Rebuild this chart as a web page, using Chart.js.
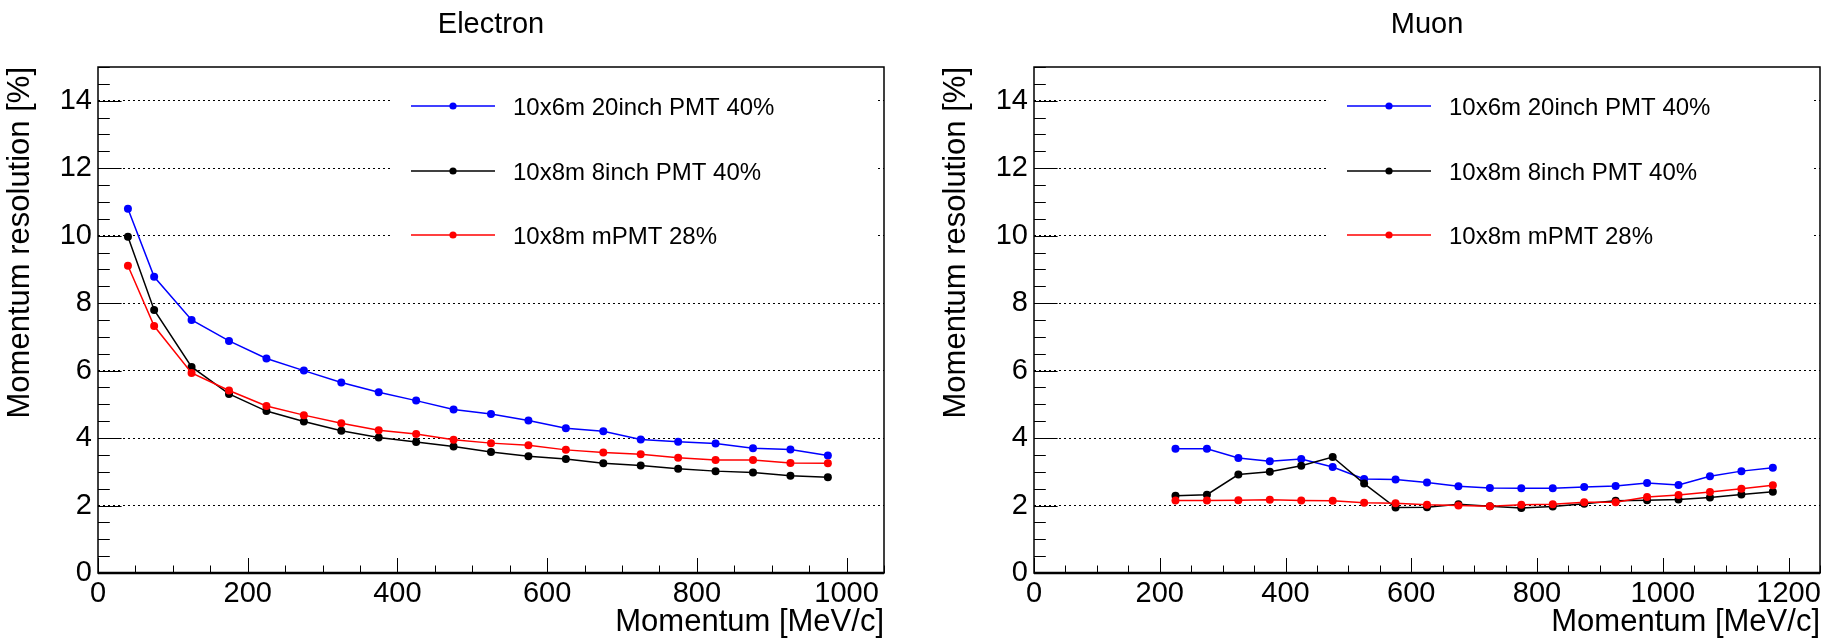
<!DOCTYPE html>
<html>
<head>
<meta charset="utf-8">
<script src="https://cdn.jsdelivr.net/npm/chart.js@4.4.1/dist/chart.umd.min.js"></script>
<style>
  html, body { margin: 0; padding: 0; background: #fff; }
  #wrap { position: relative; width: 1837px; height: 643px; }
  canvas { position: absolute; top: 0; }
</style>
</head>
<body>
<div id="wrap">
  <canvas id="c1" width="918" height="643" style="left:0;width:918px;height:643px"></canvas>
  <canvas id="c2" width="919" height="643" style="left:918px;width:919px;height:643px"></canvas>
</div>
<script>
// ---------------- data ----------------
const seriesLabels = ['10x6m 20inch PMT 40%', '10x8m 8inch PMT 40%', '10x8m mPMT 28%'];
const seriesColors = ['#0000ff', '#000000', '#ff0000'];

const electronMomentum = [40, 75, 125, 175, 225, 275, 325, 375, 425, 475, 525, 575, 625, 675, 725, 775, 825, 875, 925, 975];
const electron20inch = [10.80, 8.78, 7.50, 6.88, 6.36, 6.00, 5.65, 5.36, 5.11, 4.85, 4.71, 4.52, 4.29, 4.20, 3.96, 3.89, 3.84, 3.70, 3.66, 3.48];
const electron8inch  = [9.97, 7.80, 6.11, 5.31, 4.80, 4.49, 4.22, 4.02, 3.88, 3.75, 3.59, 3.46, 3.38, 3.25, 3.19, 3.09, 3.02, 2.98, 2.88, 2.84];
const electronMPMT   = [9.11, 7.32, 5.93, 5.41, 4.95, 4.68, 4.44, 4.23, 4.12, 3.95, 3.85, 3.79, 3.65, 3.57, 3.52, 3.42, 3.35, 3.35, 3.26, 3.25];

const muonMomentum = [225, 275, 325, 375, 425, 475, 525, 575, 625, 675, 725, 775, 825, 875, 925, 975, 1025, 1075, 1125, 1175];
const muon20inch = [3.68, 3.68, 3.41, 3.31, 3.38, 3.14, 2.79, 2.77, 2.68, 2.57, 2.52, 2.51, 2.51, 2.55, 2.58, 2.67, 2.61, 2.87, 3.02, 3.12];
const muon8inch  = [2.29, 2.32, 2.92, 3.00, 3.18, 3.44, 2.65, 1.94, 1.95, 2.04, 1.98, 1.93, 1.97, 2.05, 2.14, 2.16, 2.18, 2.24, 2.33, 2.41];
const muonMPMT   = [2.15, 2.15, 2.16, 2.17, 2.15, 2.14, 2.08, 2.07, 2.02, 2.00, 1.98, 2.02, 2.04, 2.10, 2.10, 2.25, 2.31, 2.40, 2.50, 2.60];

const yRange = [0, 15];
const yMajorStep = 2, yMinorStep = 0.5;
const xMajorStep = 200, xMinorStep = 50;
const electronXRange = [0, 1050];
const muonXRange = [0, 1250];

const xTitle = 'Momentum [MeV/c]';
const yTitle = 'Momentum resolution [%]';

// ---------------- drawing ----------------
const FONT = '"Liberation Sans", Arial, Helvetica, sans-serif';

function toPoints(xs, ys) { return xs.map((x, i) => ({ x: x, y: ys[i] })); }

const rootStyle = {
  id: 'rootStyle',
  beforeDatasetsDraw(chart) {
    const ctx = chart.ctx, a = chart.chartArea;
    ctx.save();
    ctx.fillStyle = '#ffffff';
    ctx.fillRect(a.left + 293, 78, 487, 187);
    ctx.restore();
  },
  afterDatasetsDraw(chart) {
    const ctx = chart.ctx, a = chart.chartArea;
    const xs = chart.scales.x, ys = chart.scales.y;
    const opts = chart.options.plugins.rootStyle;
    ctx.save();
    // legend
    const rowsY = [106, 171, 235];
    seriesLabels.forEach((lab, i) => {
      const y = rowsY[i];
      ctx.strokeStyle = seriesColors[i];
      ctx.lineWidth = 1.5;
      ctx.beginPath();
      ctx.moveTo(a.left + 313, y);
      ctx.lineTo(a.left + 397, y);
      ctx.stroke();
      ctx.fillStyle = seriesColors[i];
      ctx.beginPath();
      ctx.arc(a.left + 355, y, 3.6, 0, Math.PI * 2);
      ctx.fill();
      ctx.fillStyle = '#000';
      ctx.font = '24px ' + FONT;
      ctx.textAlign = 'left';
      ctx.textBaseline = 'alphabetic';
      ctx.fillText(lab, a.left + 415, y + 9);
    });
    // ticks inside frame
    ctx.strokeStyle = '#000';
    ctx.lineWidth = 1;
    const yMajLen = 23.6, yMinLen = 11.8, xMajLen = 15, xMinLen = 7.5;
    for (let v = yRange[0]; v <= yRange[1] + 1e-9; v += yMinorStep) {
      const py = Math.round(ys.getPixelForValue(v)) + 0.5;
      const major = Math.abs(v / yMajorStep - Math.round(v / yMajorStep)) < 1e-6;
      ctx.beginPath();
      ctx.moveTo(a.left, py);
      ctx.lineTo(a.left + (major ? yMajLen : yMinLen), py);
      ctx.stroke();
    }
    const xr = opts.xRange;
    for (let v = xr[0]; v <= xr[1] + 1e-9; v += xMinorStep) {
      const px = Math.round(xs.getPixelForValue(v)) + 0.5;
      const major = Math.abs(v / xMajorStep - Math.round(v / xMajorStep)) < 1e-6;
      ctx.beginPath();
      ctx.moveTo(px, a.bottom);
      ctx.lineTo(px, a.bottom - (major ? xMajLen : xMinLen));
      ctx.stroke();
    }
    // frame
    ctx.lineWidth = 1.5;
    ctx.strokeRect(a.left, a.top, a.right - a.left, a.bottom - a.top);
    ctx.lineWidth = 2.5;
    ctx.beginPath();
    ctx.moveTo(a.left, a.bottom);
    ctx.lineTo(a.right, a.bottom);
    ctx.stroke();
    // titles
    ctx.fillStyle = '#000';
    ctx.font = '29px ' + FONT;
    ctx.textAlign = 'center';
    ctx.textBaseline = 'alphabetic';
    ctx.fillText(opts.title, (a.left + a.right) / 2, 33);
    ctx.font = '31px ' + FONT;
    ctx.textAlign = 'right';
    ctx.fillText(xTitle, a.right, 631);
    ctx.translate(a.left - 69, a.top);
    ctx.rotate(-Math.PI / 2);
    ctx.textAlign = 'right';
    ctx.fillText(yTitle, 0, 0);
    ctx.restore();
  }
};

function makeChart(id, title, xsData, ySeries, xRange, areaLeft, padRight) {
  const datasets = ySeries.map((ys, i) => ({
    label: seriesLabels[i],
    data: toPoints(xsData, ys),
    borderColor: seriesColors[i],
    backgroundColor: seriesColors[i],
    borderWidth: 1.5,
    pointRadius: 4,
    pointBorderWidth: 0,
    pointHoverRadius: 4,
    tension: 0,
    order: 2 - i
  }));
  return new Chart(document.getElementById(id), {
    type: 'line',
    data: { datasets: datasets },
    plugins: [rootStyle],
    options: {
      responsive: false,
      animation: false,
      devicePixelRatio: 1,
      layout: { padding: { left: 0, top: 67, right: padRight, bottom: 0 } },
      plugins: {
        legend: { display: false },
        title: { display: false },
        tooltip: { enabled: false },
        rootStyle: { title: title, xRange: xRange }
      },
      scales: {
        x: {
          type: 'linear',
          min: xRange[0],
          max: xRange[1],
          grid: { display: false, drawTicks: false },
          border: { display: false },
          ticks: {
            stepSize: xMajorStep,
            includeBounds: false,
            autoSkip: false,
            maxRotation: 0,
            padding: 4,
            color: '#000',
            font: { family: FONT, size: 29 },
            callback: (v) => String(v)
          },
          afterFit(scale) { scale.height = 70; }
        },
        y: {
          type: 'linear',
          min: yRange[0],
          max: yRange[1],
          grid: {
            display: true,
            drawTicks: false,
            color: (c) => (c.tick && c.tick.value > 0 ? '#000' : 'rgba(0,0,0,0)'),
            lineWidth: 1
          },
          border: { display: false, dash: [2, 3] },
          ticks: {
            stepSize: yMajorStep,
            includeBounds: false,
            autoSkip: false,
            padding: 6,
            color: '#000',
            font: { family: FONT, size: 29 },
            callback: (v) => String(v)
          },
          afterFit(scale) { scale.width = areaLeft; }
        }
      }
    }
  });
}

makeChart('c1', 'Electron', electronMomentum, [electron20inch, electron8inch, electronMPMT], electronXRange, 98, 34);
makeChart('c2', 'Muon', muonMomentum, [muon20inch, muon8inch, muonMPMT], muonXRange, 116, 17);
</script>
</body>
</html>
